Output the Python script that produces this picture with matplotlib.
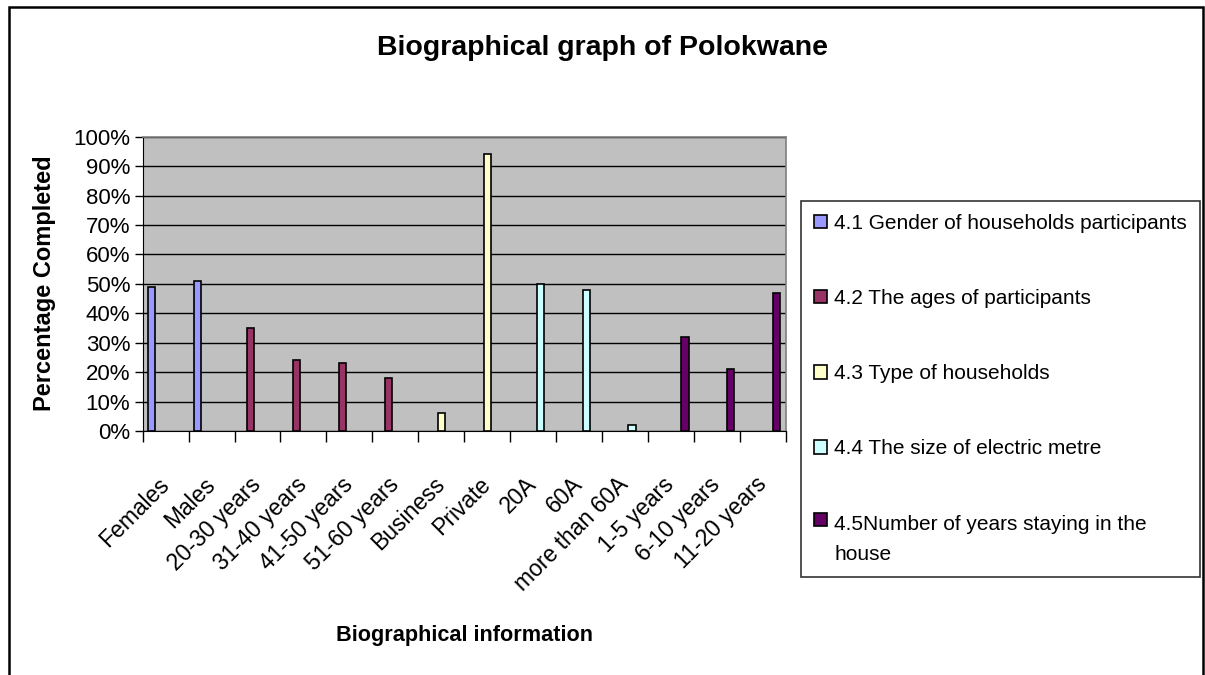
import numpy as np
import matplotlib
matplotlib.use('Agg')
import matplotlib.pyplot as plt
from matplotlib.patches import Rectangle
from matplotlib.legend_handler import HandlerPatch, update_from_first_child

plt.rcParams['font.family'] = ['Liberation Sans', 'DejaVu Sans']

# Data
categories = ['Females', 'Males', '20-30 years', '31-40 years', '41-50 years', '51-60 years',
              'Business', 'Private', '20A', '60A', 'more than 60A', '1-5 years', '6-10 years',
              '11-20 years']
values = [49, 51, 35, 24, 23, 18, 6, 94, 50, 48, 2, 32, 21, 47]
series_of = [0, 0, 1, 1, 1, 1, 2, 2, 3, 3, 3, 4, 4, 4]
series_names = ['4.1 Gender of households participants',
                '4.2 The ages of participants',
                '4.3 Type of households',
                '4.4 The size of electric metre',
                '4.5Number of years staying in the\nhouse']
series_colors = ['#9999FF', '#993366', '#FFFFCC', '#CCFFFF', '#660066']

W, H = 1205, 675
fig = plt.figure(figsize=(W / 100, H / 100), dpi=100)
ax = fig.add_axes([142.7 / W, 1 - 431 / H, (785.7 - 142.7) / W, (431 - 136.7) / H])
ax.set_facecolor('#C0C0C0')

x = np.arange(len(categories))
vals = np.array(values)
ser = np.array(series_of)
n = len(series_names)
bw = 1 / (n + 1.5)
handles = []
for s in range(n):
    idx = np.where(ser == s)[0]
    off = -0.5 + 0.75 * bw + (s + 0.5) * bw
    b = ax.bar(x[idx] + off, vals[idx], width=bw, color=series_colors[s],
               edgecolor='black', linewidth=1.2, label=series_names[s], zorder=3)
    handles.append(b)

ax.set_xlim(-0.5, len(categories) - 0.5)
ax.set_ylim(0, 100)
ax.set_yticks(np.arange(0, 101, 10))
ax.set_yticklabels([f'{v}%' for v in range(0, 101, 10)], fontsize=16)
ax.yaxis.grid(True, color='black', linewidth=1)
ax.set_axisbelow(True)
ax.tick_params(axis='y', direction='out', length=6, width=1, pad=3)

ax.set_xticks(x)
ax.set_xticklabels(categories, rotation=45, ha='right', va='center',
                   rotation_mode='anchor', fontsize=16.5)
ax.set_xticks(np.arange(-0.5, len(categories), 1), minor=True)
ax.tick_params(axis='x', which='major', length=0, pad=36)
ax.tick_params(axis='x', which='minor', direction='out', length=8, width=1)

for side in ['top', 'right']:
    ax.spines[side].set_color('#808080')
    ax.spines[side].set_linewidth(1.2)
for side in ['left', 'bottom']:
    ax.spines[side].set_color('black')

fig.text(0.5, 1 - 48 / H, 'Biographical graph of Polokwane', ha='center', va='center',
         fontsize=20.5, fontweight='bold')
fig.text(45 / W, 1 - 283 / H, 'Percentage Completed', rotation=90, ha='center', va='center',
         fontsize=17, fontweight='bold')
fig.text(464 / W, 1 - 635 / H, 'Biographical information', ha='center', va='center',
         fontsize=15.6, fontweight='bold')


# the two-line entry keeps its box next to the first line
def top_aligned(legend, orig_handle, xdescent, ydescent, width, height, fontsize):
    return Rectangle((-xdescent, -ydescent + 0.95 * fontsize), width, height)


leg = fig.legend(handles=handles, loc='upper left', bbox_to_anchor=(801 / W, 1 - 200.7 / H),
                 fontsize=15.0, frameon=True, fancybox=False, edgecolor='black',
                 handlelength=0.62, handleheight=0.62, handletextpad=0.35,
                 borderpad=0.62, labelspacing=2.7, borderaxespad=0,
                 handler_map={handles[-1]: HandlerPatch(patch_func=top_aligned,
                                                        update_func=update_from_first_child)})
leg.get_frame().set_linewidth(1.2)
leg.get_texts()[-1].set_linespacing(1.75)

fig.patches.append(Rectangle((8.5 / W, -0.1), (1202.5 - 8.5) / W, 1.1 - 6.5 / H,
                             transform=fig.transFigure, fill=False,
                             edgecolor='black', linewidth=1.8))

fig.savefig('out.png', dpi=100)
